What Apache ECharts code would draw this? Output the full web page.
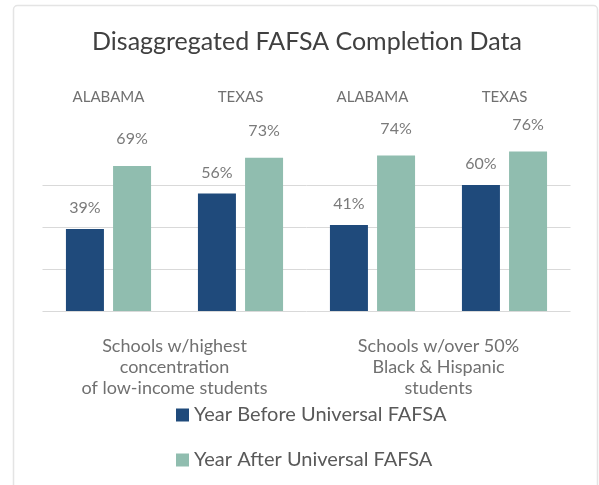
<!DOCTYPE html>
<html>
<head>
<meta charset="utf-8">
<script src="https://cdn.jsdelivr.net/npm/echarts@6/dist/echarts.min.js"></script>
<style>
  html, body { margin: 0; padding: 0; background: #ffffff; }
  #chart { width: 599px; height: 485px; }
</style>
</head>
<body>
<div id="chart"></div>
<script>
const states = ['ALABAMA', 'TEXAS', 'ALABAMA', 'TEXAS'];
const groups = ['Schools w/highest\nconcentration\nof low-income students', 'Schools w/over 50%\nBlack & Hispanic\nstudents'];
const seriesNames = ['Year Before Universal FAFSA', 'Year After Universal FAFSA'];
const yearBefore = [39, 56, 41, 60];
const yearAfter = [69, 73, 74, 76];

const FONT = 'Lato';
const chart = echarts.init(document.getElementById('chart'));
chart.setOption({
  animation: false,
  backgroundColor: '#ffffff',
  textStyle: { fontFamily: FONT },
  graphic: [{
    type: 'rect',
    shape: { x: 13.5, y: 5.5, width: 584, height: 490, r: 4 },
    style: { fill: 'none', stroke: '#e4e4e4', lineWidth: 1.5 },
    silent: true, z: -10
  }],
  title: {
    text: 'Disaggregated FAFSA Completion Data',
    left: 307, top: 29, padding: 0, textAlign: 'center',
    textStyle: { fontFamily: FONT, fontSize: 25, fontWeight: 'normal', color: '#404040' }
  },
  legend: {
    orient: 'vertical',
    left: 176, top: 405, padding: 0,
    itemWidth: 13, itemHeight: 13, itemGap: 25,
    icon: 'rect',
    textStyle: { fontFamily: FONT, fontSize: 20, color: '#595959' },
    data: seriesNames
  },
  grid: { left: 42.5, right: 28.5, top: 143, bottom: 174 },
  xAxis: [{
    type: 'category',
    position: 'top',
    data: states,
    axisLine: { show: false },
    axisTick: { show: false },
    axisLabel: { margin: 38, fontFamily: FONT, fontSize: 15, color: '#707070' }
  }, {
    type: 'category',
    position: 'bottom',
    data: groups,
    axisLine: { show: false },
    axisTick: { show: false },
    axisLabel: { margin: 25, fontFamily: FONT, fontSize: 18, lineHeight: 21, color: '#707070', align: 'center' }
  }],
  yAxis: {
    type: 'value', min: 0, max: 80, interval: 20,
    axisLabel: { show: false },
    axisLine: { show: false },
    axisTick: { show: false },
    splitLine: { lineStyle: { color: ['#d9d9d9', '#d9d9d9', '#d9d9d9', '#d9d9d9', 'rgba(0,0,0,0)'], width: 1 } }
  },
  series: [{
    name: seriesNames[0],
    type: 'bar',
    xAxisIndex: 0,
    data: yearBefore,
    barWidth: 38,
    barGap: '24%',
    itemStyle: { color: '#1f4a7b' },
    label: { show: true, position: 'top', distance: 13, formatter: '{c}%', fontFamily: FONT, fontSize: 16, color: '#7a7a7a' }
  }, {
    name: seriesNames[1],
    type: 'bar',
    xAxisIndex: 0,
    data: yearAfter,
    barWidth: 38,
    barGap: '24%',
    itemStyle: { color: '#90bdaf' },
    label: { show: true, position: 'top', distance: 19, formatter: '{c}%', fontFamily: FONT, fontSize: 16, color: '#7a7a7a' }
  }]
});
</script>
</body>
</html>
